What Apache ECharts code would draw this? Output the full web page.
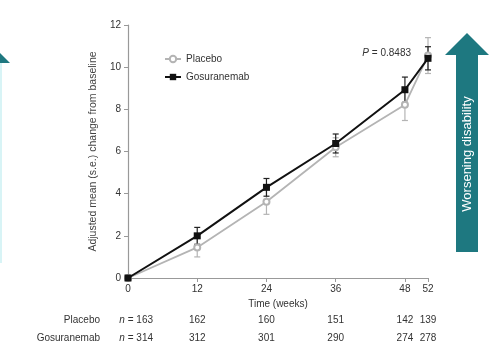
<!DOCTYPE html>
<html>
<head>
<meta charset="utf-8">
<script src="https://cdn.jsdelivr.net/npm/echarts@6/dist/echarts.min.js"></script>
<style>
  html, body { margin: 0; padding: 0; background: #fff; }
  #chart { width: 496px; height: 350px; }
</style>
</head>
<body>
<div id="chart"></div>
<script>
// weeks and adjusted mean change
const weeks = [0, 12, 24, 36, 48, 52];
const placeboMean = [0, 1.45, 3.62, 6.2, 8.22, 10.55];
const placeboSe = [0, 0.45, 0.6, 0.45, 0.75, 0.85];
const gosMean = [0, 2.0, 4.3, 6.38, 8.93, 10.42];
const gosSe = [0, 0.4, 0.42, 0.45, 0.6, 0.55];
const placeboN = [163, 162, 160, 151, 142, 139];
const gosN = [314, 312, 301, 290, 274, 278];
const yTicks = [0, 2, 4, 6, 8, 10, 12];

const font = 'Liberation Sans, Arial, sans-serif';
const placeboColor = '#b4b4b4';
const gosColor = '#111';
const teal = '#1e7880';

function pairs(means) {
  return weeks.map((w, i) => [w, means[i]]);
}
function bars(means, se) {
  return weeks.map((w, i) => [w, means[i] - se[i], means[i] + se[i]]);
}

function errorBar(color) {
  return function (params, api) {
    const x = api.value(0);
    const lo = api.coord([x, api.value(1)]);
    const hi = api.coord([x, api.value(2)]);
    const cap = 3;
    const style = { stroke: color, lineWidth: 1.2 };
    return {
      type: 'group',
      children: [
        { type: 'line', shape: { x1: lo[0], y1: lo[1], x2: hi[0], y2: hi[1] }, style: style },
        { type: 'line', shape: { x1: lo[0] - cap, y1: lo[1], x2: lo[0] + cap, y2: lo[1] }, style: style },
        { type: 'line', shape: { x1: hi[0] - cap, y1: hi[1], x2: hi[0] + cap, y2: hi[1] }, style: style }
      ]
    };
  };
}

const chart = echarts.init(document.getElementById('chart'));

chart.setOption({
  animation: false,
  textStyle: { fontFamily: font },
  grid: { left: 128, right: 68, top: 25, bottom: 72 },
  legend: {
    orient: 'vertical',
    left: 159,
    top: 49,
    itemWidth: 16,
    itemHeight: 8,
    itemGap: 8,
    textStyle: { fontSize: 10, color: '#333', fontFamily: font },
    data: ['Placebo', 'Gosuranemab']
  },
  xAxis: {
    type: 'value',
    min: 0,
    max: 52,
    name: 'Time (weeks)',
    nameLocation: 'middle',
    nameGap: 20,
    nameTextStyle: { fontSize: 10, color: '#333' },
    axisLine: { lineStyle: { color: '#999', width: 1.2 } },
    axisTick: { show: true, length: 4, lineStyle: { color: '#999' }, customValues: weeks },
    axisLabel: { fontSize: 10, color: '#333', margin: 6, customValues: weeks },
    splitLine: { show: false }
  },
  yAxis: {
    type: 'value',
    min: 0,
    max: 12,
    interval: 2,
    name: 'Adjusted mean (s.e.) change from baseline',
    nameLocation: 'middle',
    nameGap: 22,
    nameTextStyle: { fontSize: 10.5, color: '#444' },
    axisLine: { show: true, lineStyle: { color: '#999', width: 1.2 } },
    axisTick: { show: true, length: 4, lineStyle: { color: '#999' } },
    axisLabel: { fontSize: 10, color: '#333', margin: 7, customValues: yTicks },
    splitLine: { show: false }
  },
  series: [
    {
      name: 'Placebo',
      type: 'line',
      data: pairs(placeboMean),
      symbol: 'emptyCircle',
      symbolSize: 6,
      z: 3,
      lineStyle: { color: placeboColor, width: 1.8 },
      itemStyle: { color: placeboColor, borderColor: placeboColor, borderWidth: 1.2 }
    },
    {
      name: 'Gosuranemab',
      type: 'line',
      data: pairs(gosMean),
      symbol: 'rect',
      symbolSize: 7,
      z: 4,
      lineStyle: { color: gosColor, width: 2 },
      itemStyle: { color: gosColor }
    },
    {
      type: 'custom',
      renderItem: errorBar(placeboColor),
      data: bars(placeboMean, placeboSe),
      encode: { x: 0, y: [1, 2] },
      z: 2,
      silent: true
    },
    {
      type: 'custom',
      renderItem: errorBar('#222'),
      data: bars(gosMean, gosSe),
      encode: { x: 0, y: [1, 2] },
      z: 3,
      silent: true
    }
  ]
});

// n-at-risk table and annotations, placed through the axis scales
const rowY1 = 320, rowY2 = 338;
const extras = [];
function nText(n, x, y) {
  return {
    type: 'text',
    x: x, y: y,
    style: {
      text: '{i|n} = ' + n,
      rich: { i: { fontStyle: 'italic', fontSize: 10, fontFamily: font, fill: '#333' } },
      fontSize: 10, fontFamily: font, fill: '#333',
      align: 'right', verticalAlign: 'middle'
    }
  };
}
weeks.forEach((w, i) => {
  const px = chart.convertToPixel({ xAxisIndex: 0 }, w);
  if (i === 0) {
    extras.push(nText(placeboN[i], px + 25, rowY1));
    extras.push(nText(gosN[i], px + 25, rowY2));
  } else {
    [[placeboN[i], rowY1], [gosN[i], rowY2]].forEach(([n, y]) => {
      extras.push({
        type: 'text', x: px, y: y,
        style: { text: String(n), fontSize: 10, fontFamily: font, fill: '#333', align: 'center', verticalAlign: 'middle' }
      });
    });
  }
});
extras.push({
  type: 'text', x: 100, y: rowY1,
  style: { text: 'Placebo', fontSize: 10, fontFamily: font, fill: '#333', align: 'right', verticalAlign: 'middle' }
});
extras.push({
  type: 'text', x: 100, y: rowY2,
  style: { text: 'Gosuranemab', fontSize: 10, fontFamily: font, fill: '#333', align: 'right', verticalAlign: 'middle' }
});

// P value
extras.push({
  type: 'text', x: 411, y: 53,
  style: {
    text: '{i|P} = 0.8483',
    rich: { i: { fontStyle: 'italic', fontSize: 10, fontFamily: font, fill: '#333' } },
    fontSize: 10, fontFamily: font, fill: '#333', align: 'right', verticalAlign: 'middle'
  }
});

// right arrow "Worsening disability"
extras.push({
  type: 'polygon',
  shape: { points: [[467, 33], [489, 55], [478, 55], [478, 252], [456, 252], [456, 55], [445, 55]] },
  style: { fill: teal }
});
extras.push({
  type: 'text', x: 467, y: 154, rotation: Math.PI / 2,
  style: { text: 'Worsening disability', fontSize: 13, fontFamily: font, fill: '#fff', align: 'center', verticalAlign: 'middle' }
});

// cut-off arrow at the left edge
extras.push({
  type: 'polygon',
  shape: { points: [[0, 53], [10, 63], [0, 63]] },
  style: { fill: teal }
});
extras.push({
  type: 'rect',
  shape: { x: 0, y: 63, width: 2, height: 200 },
  style: { fill: '#d8f4f6' }
});

chart.setOption({ graphic: extras });
</script>
</body>
</html>
